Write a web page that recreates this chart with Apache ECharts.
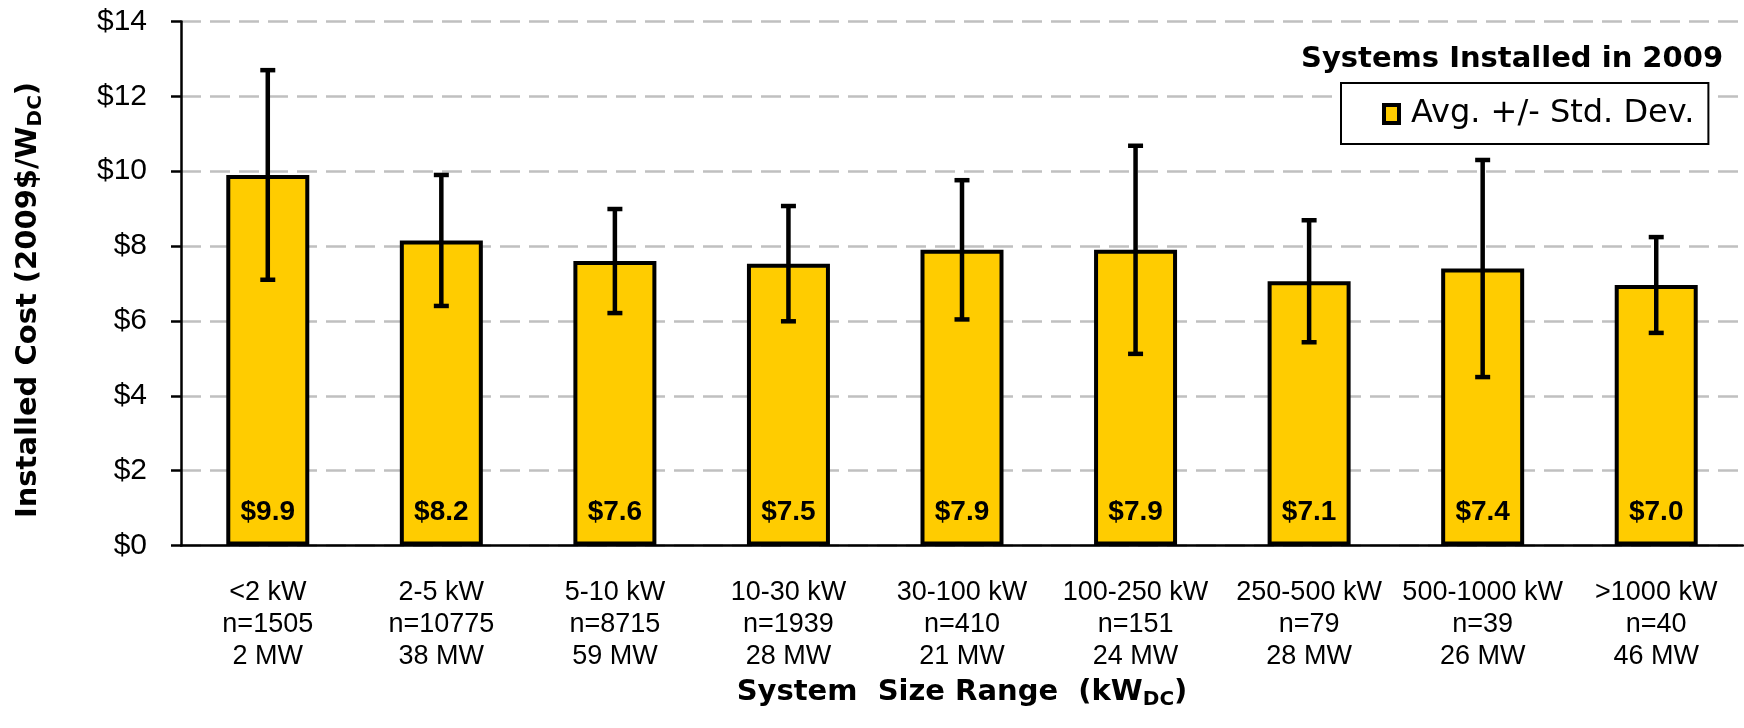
<!DOCTYPE html>
<html>

	<head>
		<meta charset="utf-8">
		<title>Installed Cost by System Size</title>
		<script src="https://cdn.jsdelivr.net/npm/echarts@6/dist/echarts.min.js"></script>
		<style>
			html, body { margin: 0; padding: 0; background: #fff; }
		</style>
	</head>

	<body>
		<div id="res" style="width: 1744px;height: 728px;"></div>
		<script>
			var sizeRanges = ['<2 kW', '2-5 kW', '5-10 kW', '10-30 kW', '30-100 kW', '100-250 kW', '250-500 kW', '500-1000 kW', '>1000 kW'];
			var counts = [1505, 10775, 8715, 1939, 410, 151, 79, 39, 40];
			var capacityMW = [2, 38, 59, 28, 21, 24, 28, 26, 46];
			var avgCost = [9.9, 8.15, 7.6, 7.53, 7.9, 7.9, 7.06, 7.4, 6.96];
			var stdDev = [2.8, 1.75, 1.39, 1.54, 1.86, 2.78, 1.63, 2.9, 1.28];
			var yTicks = [0, 2, 4, 6, 8, 10, 12, 14];

			var arial = 'Liberation Sans, Arial, sans-serif';
			var wide = 'DejaVu Sans, Verdana, sans-serif';

			var xA = [];
			var errData = [];
			for(var i = 0; i < sizeRanges.length; i++) {
				xA.push(sizeRanges[i] + '\nn=' + counts[i] + '\n' + capacityMW[i] + ' MW');
				errData.push([i, avgCost[i] - stdDev[i], avgCost[i] + stdDev[i]]);
			}

			// rich styles shared by both axis titles (subscript DC)
			var titleRich = {
				t: { fontFamily: wide, fontWeight: 'bold', fontSize: 29, lineHeight: 34, color: '#000' },
				s: { fontFamily: wide, fontWeight: 'bold', fontSize: 20, lineHeight: 15, verticalAlign: 'bottom', color: '#000' }
			};

			var myChart = echarts.init(document.getElementById('res'));
			var option = {
				animation: false,
				backgroundColor: '#fff',
				title: {
					text: 'Systems Installed in 2009',
					left: 1301,
					top: 45,
					padding: 0,
					textStyle: { fontFamily: wide, fontWeight: 'bold', fontSize: 29, color: '#000' }
				},
				legend: {
					data: ['Avg. +/- Std. Dev.'],
					left: 1341,
					top: 83,
					padding: [13, 14, 12, 41],
					backgroundColor: '#fff',
					borderColor: '#000',
					borderWidth: 2,
					borderRadius: 0,
					icon: 'rect',
					itemWidth: 15,
					itemHeight: 18,
					itemStyle: { color: '#FFCC00', borderColor: '#000', borderWidth: 4 },
					textStyle: { fontFamily: wide, fontSize: 32, color: '#000', lineHeight: 36, padding: [0, 0, 0, 7] }
				},
				grid: {
					left: 181,
					right: 1,
					top: 21.5,
					bottom: 182.5
				},
				xAxis: {
					type: 'category',
					data: xA,
					name: '{t|System  Size Range  (kW}{s|DC}{t|)}',
					nameLocation: 'middle',
					nameGap: 130,
					nameTextStyle: { rich: titleRich },
					axisLine: { lineStyle: { color: '#000', width: 2.5 } },
					axisTick: { length: 9, lineStyle: { color: '#000', width: 2.5 } },
					axisLabel: {
						interval: 0,
						margin: 31.5,
						fontFamily: arial,
						fontSize: 27,
						lineHeight: 32,
						color: '#000'
					}
				},
				yAxis: {
					type: 'value',
					min: yTicks[0],
					max: yTicks[yTicks.length - 1],
					interval: 2,
					name: '{t|Installed Cost (2009$/W}{s|DC}{t|)}',
					nameLocation: 'middle',
					nameGap: 135.5,
					nameTextStyle: { rich: titleRich, padding: [0, 33, 0, 0] },
					axisLine: { show: true, lineStyle: { color: '#000', width: 2.5 } },
					axisTick: { show: true, length: 10, lineStyle: { color: '#000', width: 2.5 } },
					axisLabel: {
						margin: 34,
						fontFamily: arial,
						fontSize: 30,
						color: '#000',
						formatter: function(v) { return '$' + v; }
					},
					splitLine: { lineStyle: { color: '#C0C0C0', width: 2.5, type: [20, 9] } }
				},
				series: [{
					name: 'Avg. +/- Std. Dev.',
					type: 'bar',
					data: avgCost,
					barWidth: 83,
					itemStyle: { color: '#FFCC00', borderColor: '#000', borderWidth: 4 },
					label: {
						show: true,
						position: 'insideBottom',
						distance: 19,
						fontFamily: arial,
						fontWeight: 'bold',
						fontSize: 28,
						lineHeight: 28,
						color: '#000',
						formatter: function(p) { return '$' + p.value.toFixed(1); }
					}
				}, {
					name: 'err',
					type: 'custom',
					data: errData,
					z: 5,
					encode: { x: 0, y: [1, 2] },
					renderItem: function(params, api) {
						var x = api.value(0);
						var lo = api.coord([x, api.value(1)]);
						var hi = api.coord([x, api.value(2)]);
						var cap = 15;
						var st = { stroke: '#000', lineWidth: 4.5 };
						return {
							type: 'group',
							children: [
								{ type: 'line', shape: { x1: hi[0], y1: hi[1], x2: lo[0], y2: lo[1] }, style: st },
								{ type: 'line', shape: { x1: hi[0] - cap / 2, y1: hi[1], x2: hi[0] + cap / 2, y2: hi[1] }, style: st },
								{ type: 'line', shape: { x1: lo[0] - cap / 2, y1: lo[1], x2: lo[0] + cap / 2, y2: lo[1] }, style: st }
							]
						};
					}
				}]
			};
			myChart.setOption(option);
		</script>
	</body>

</html>
